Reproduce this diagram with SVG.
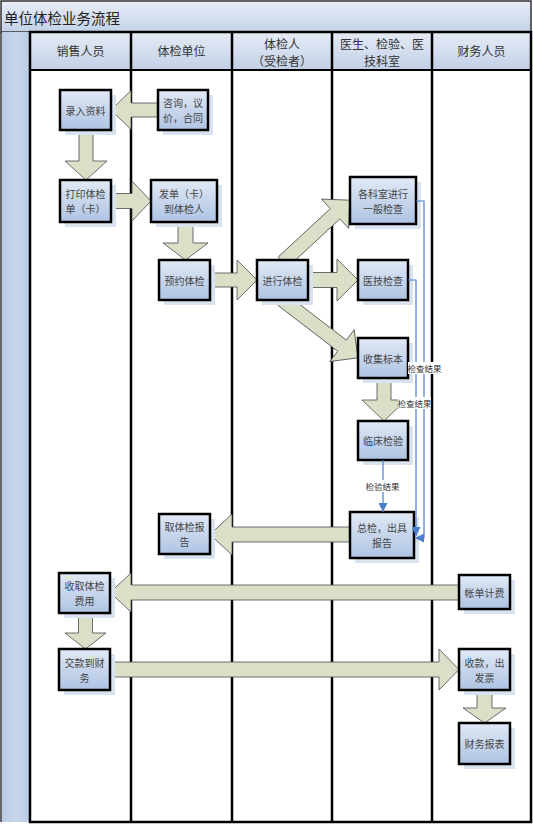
<svg xmlns="http://www.w3.org/2000/svg" width="533" height="825" viewBox="0 0 533 825">
<defs>
  <linearGradient id="tg" x1="0" y1="0" x2="0" y2="1">
    <stop offset="0" stop-color="#e8eef7"/>
    <stop offset="1" stop-color="#c3d1e7"/>
  </linearGradient>
  <linearGradient id="hg" x1="0" y1="0" x2="0" y2="1">
    <stop offset="0" stop-color="#e6ecf6"/>
    <stop offset="1" stop-color="#c2d0e6"/>
  </linearGradient>
  <linearGradient id="ng" x1="0" y1="0" x2="0" y2="1">
    <stop offset="0" stop-color="#e1e9f5"/>
    <stop offset="1" stop-color="#aec3e3"/>
  </linearGradient>
  <linearGradient id="sg" x1="0" y1="0" x2="1" y2="0">
    <stop offset="0" stop-color="#b9cbe4"/>
    <stop offset="0.5" stop-color="#c8d6eb"/>
    <stop offset="1" stop-color="#b9cbe4"/>
  </linearGradient>
  <marker id="ba" markerUnits="userSpaceOnUse" markerWidth="9" markerHeight="9" refX="9" refY="4.5" orient="auto">
    <path d="M0,0 L9,4.5 L0,9 z" fill="#4a7fd0"/>
  </marker>
</defs>
<style>
  .lane{stroke:#000;stroke-width:2.5;fill:none}
  .hdr{fill:url(#hg);stroke:#000;stroke-width:2}
  .ht{font-family:"Noto Sans CJK SC",sans-serif;font-size:12px;fill:#333;text-anchor:middle;dominant-baseline:central}
  .box{fill:url(#ng);stroke:#000;stroke-width:2.5}
  .sh{fill:#d9e2ef}
  .nt{font-family:"Noto Sans CJK SC",sans-serif;font-size:10px;fill:#444;text-anchor:middle;dominant-baseline:central}
  .blk{fill:#dadfc7;stroke:#4d4d4d;stroke-width:0.8}
  .bl{fill:none;stroke:#4a7fd0;stroke-width:1.2}
  .lb{font-family:"Noto Sans CJK SC",sans-serif;font-size:8.5px;fill:#333;text-anchor:middle;dominant-baseline:central}
</style>
<rect x="0" y="0" width="533" height="825" fill="#fff"/>
<g id="frame">
  <rect x="1" y="1" width="530" height="31" fill="url(#tg)" stroke="#333" stroke-width="1.5"/>
  <text x="4" y="17" font-family="Noto Sans CJK SC, sans-serif" font-size="14.5" fill="#222" dominant-baseline="central">单位体检业务流程</text>
  <rect x="2" y="32" width="28" height="790" fill="url(#sg)"/>
  <line x1="1" y1="32" x2="1" y2="822" stroke="#333" stroke-width="1.5"/>
  <rect class="hdr" x="30" y="32" width="101" height="38"/>
  <rect class="hdr" x="131" y="32" width="101" height="38"/>
  <rect class="hdr" x="232" y="32" width="100" height="38"/>
  <rect class="hdr" x="332" y="32" width="100" height="38"/>
  <rect class="hdr" x="432" y="32" width="99" height="38"/>
  <text class="ht" x="80.5" y="50">销售人员</text>
  <text class="ht" x="181.5" y="50">体检单位</text>
  <text class="ht" x="282" y="43.5">体检人</text>
  <text class="ht" x="282" y="60">（受检者）</text>
  <text class="ht" x="382" y="43.5">医生、检验、医</text>
  <text class="ht" x="382" y="60">技科室</text>
  <text class="ht" x="481.5" y="50">财务人员</text>
  <rect class="lane" x="30" y="32" width="501" height="790"/>
  <line class="lane" x1="131" y1="32" x2="131" y2="822"/>
  <line class="lane" x1="232" y1="32" x2="232" y2="822"/>
  <line class="lane" x1="332" y1="32" x2="332" y2="822"/>
  <line class="lane" x1="432" y1="32" x2="432" y2="822"/>
</g>
<g id="connectors">
  <polygon class="blk" points="158,103 131,103 131,90.5 111,110 131,129.5 131,117 158,117"/>
  <polygon class="blk" points="79,130 93,130 93,161 107,161 86,180 65,161 79,161"/>
  <polygon class="blk" points="111,193.5 132,193.5 132,181 151,201 132,221 132,208.5 111,208.5"/>
  <polygon class="blk" points="178,222 193,222 193,243 208,243 185.5,260 163,243 178,243"/>
  <polygon class="blk" points="210,273 237,273 237,260 257,280 237,300 237,287 210,287"/>
  <polygon class="blk" points="308,272.5 337,272.5 337,259 358,280 337,301 337,287.5 308,287.5"/>
  <polygon class="blk" transform="translate(283,262) rotate(-42.8)" points="0,-7 71,-7 71,-20 91,0 71,20 71,7 0,7"/>
  <polygon class="blk" transform="translate(282.5,300) rotate(37.5)" points="0,-7 75,-7 75,-20 95,0 75,20 75,7 0,7"/>
  <polygon class="blk" points="377,378 391,378 391,400 406,400 384,421 362,400 377,400"/>
  <polygon class="blk" points="350,527 232,527 232,514 210,534.5 232,555 232,542 350,542"/>
  <polygon class="blk" points="459,585 131,585 131,573 110,592.5 131,612 131,600 459,600"/>
  <polygon class="blk" points="78.5,613 92.5,613 92.5,633 106,633 85.5,649 65,633 78.5,633"/>
  <polygon class="blk" points="110,662 439,662 439,649 459,669.5 439,690 439,677 110,677"/>
  <polygon class="blk" points="477,690 492,690 492,708 506,708 484.5,723 463,708 477,708"/>
</g>
<g id="n1"><rect class="sh" x="65" y="95" width="51" height="40"/><rect class="box" x="60" y="90" width="51" height="40"/><text class="nt" x="85.5" y="110">录入资料</text></g>
<g id="n2"><rect class="sh" x="163" y="95" width="50" height="40"/><rect class="box" x="158" y="90" width="50" height="40"/><text class="nt" x="183" y="102.5">咨询，议</text><text class="nt" x="183" y="117.5">价，合同</text></g>
<g id="n3"><rect class="sh" x="65" y="185" width="51" height="42"/><rect class="box" x="60" y="180" width="51" height="42"/><text class="nt" x="85.5" y="193.5">打印体检</text><text class="nt" x="85.5" y="208.5">单（卡）</text></g>
<g id="n4"><rect class="sh" x="156" y="185" width="66" height="42"/><rect class="box" x="151" y="180" width="66" height="42"/><text class="nt" x="184" y="193.5">发单（卡）</text><text class="nt" x="184" y="208.5">到体检人</text></g>
<g id="n5"><rect class="sh" x="164" y="265" width="51" height="40"/><rect class="box" x="159" y="260" width="51" height="40"/><text class="nt" x="184.5" y="280">预约体检</text></g>
<g id="n6"><rect class="sh" x="262" y="265" width="51" height="40"/><rect class="box" x="257" y="260" width="51" height="40"/><text class="nt" x="282.5" y="280">进行体检</text></g>
<g id="n7"><rect class="sh" x="355" y="182" width="66" height="47"/><rect class="box" x="350" y="177" width="66" height="47"/><text class="nt" x="383" y="193">各科室进行</text><text class="nt" x="383" y="208">一般检查</text></g>
<g id="n8"><rect class="sh" x="363" y="265" width="50" height="40"/><rect class="box" x="358" y="260" width="50" height="40"/><text class="nt" x="383" y="280">医技检查</text></g>
<g id="n9"><rect class="sh" x="363" y="343" width="50" height="40"/><rect class="box" x="358" y="338" width="50" height="40"/><text class="nt" x="383" y="358">收集标本</text></g>
<g id="n10"><rect class="sh" x="363" y="426" width="50" height="39"/><rect class="box" x="358" y="421" width="50" height="39"/><text class="nt" x="383" y="440.5">临床检验</text></g>
<g id="n11"><rect class="sh" x="355" y="517" width="64" height="46"/><rect class="box" x="350" y="512" width="64" height="46"/><text class="nt" x="382" y="527.5">总检，出具</text><text class="nt" x="382" y="542.5">报告</text></g>
<g id="n12"><rect class="sh" x="164" y="519" width="51" height="40"/><rect class="box" x="159" y="514" width="51" height="40"/><text class="nt" x="184.5" y="526.5">取体检报</text><text class="nt" x="184.5" y="541.5">告</text></g>
<g id="n13"><rect class="sh" x="64" y="578" width="51" height="40"/><rect class="box" x="59" y="573" width="51" height="40"/><text class="nt" x="84.5" y="585.5">收取体检</text><text class="nt" x="84.5" y="600.5">费用</text></g>
<g id="n14"><rect class="sh" x="464" y="580" width="51" height="34"/><rect class="box" x="459" y="575" width="51" height="34"/><text class="nt" x="484.5" y="592">帐单计费</text></g>
<g id="n15"><rect class="sh" x="64" y="654" width="51" height="41"/><rect class="box" x="59" y="649" width="51" height="41"/><text class="nt" x="84.5" y="662">交款到财</text><text class="nt" x="84.5" y="677">务</text></g>
<g id="n16"><rect class="sh" x="464" y="654" width="51" height="41"/><rect class="box" x="459" y="649" width="51" height="41"/><text class="nt" x="484.5" y="662">收款，出</text><text class="nt" x="484.5" y="677">发票</text></g>
<g id="n17"><rect class="sh" x="464" y="728" width="51" height="41"/><rect class="box" x="459" y="723" width="51" height="41"/><text class="nt" x="484.5" y="743.5">财务报表</text></g>
<g id="result-lines">
  <polyline class="bl" points="416,201 424,201 424,538 415,538" marker-end="url(#ba)"/>
  <polyline class="bl" points="408,280 416,280 416,536" marker-end="url(#ba)"/>
  <polyline class="bl" points="383,460 383,512" marker-end="url(#ba)"/>
  <rect x="408" y="362" width="33" height="12" fill="#fff"/>
  <text class="lb" x="424.5" y="368">检查结果</text>
  <rect x="398" y="397" width="33" height="12" fill="#fff"/>
  <text class="lb" x="414.5" y="403">检查结果</text>
  <rect x="366" y="480" width="33" height="12" fill="#fff"/>
  <text class="lb" x="382.5" y="486">检验结果</text>
</g>
</svg>
